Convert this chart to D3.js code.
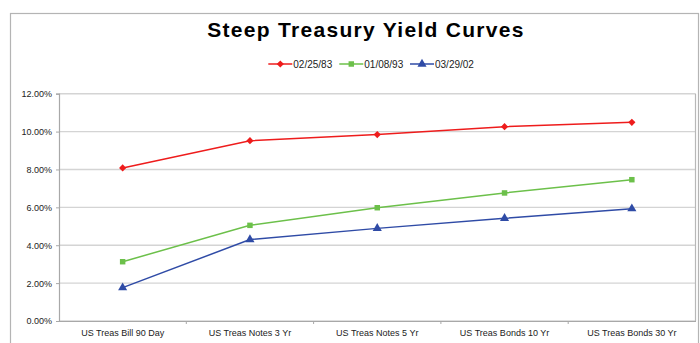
<!DOCTYPE html>
<html>
<head>
<meta charset="utf-8">
<script src="https://cdn.jsdelivr.net/npm/d3@7"></script>
<style>
  html, body { margin: 0; padding: 0; background: #fff; }
  svg { display: block; font-family: Arial, "Liberation Sans", sans-serif; }
</style>
</head>
<body>
<svg id="chart" width="700" height="343"></svg>
<script>
// Treasury yields (%) by maturity on three dates
const maturities = ["US Treas Bill 90 Day", "US Treas Notes 3 Yr", "US Treas Notes 5 Yr", "US Treas Bonds 10 Yr", "US Treas Bonds 30 Yr"];
const seriesNames = ["02/25/83", "01/08/93", "03/29/02"];
const yields1983 = [8.08, 9.52, 9.84, 10.26, 10.49];
const yields1993 = [3.13, 5.05, 5.98, 6.76, 7.46];
const yields2002 = [1.76, 4.30, 4.89, 5.42, 5.93];
const yTicks = [0, 2, 4, 6, 8, 10, 12];

// even-sided diamond marker
const symbolRhombus = {
  draw(ctx, size) {
    const r = Math.sqrt(size / 2);
    ctx.moveTo(0, -r);
    ctx.lineTo(r, 0);
    ctx.lineTo(0, r);
    ctx.lineTo(-r, 0);
    ctx.closePath();
  }
};

const colors = ["#ee1c1c", "#6cc04a", "#2f4ba6"];
const symbols = [symbolRhombus, d3.symbolSquare, d3.symbolTriangle];
const symbolSizes = [26, 30, 36];

const series = seriesNames.map((name, i) => ({
  name,
  values: [yields1983, yields1993, yields2002][i],
  color: colors[i],
  symbol: symbols[i],
  size: symbolSizes[i]
}));

const svg = d3.select("#chart");
const plot = { left: 59, right: 695.5, top: 93.7, bottom: 321 };

// outer chart frame
svg.append("rect")
  .attr("x", 10.5).attr("y", 13.5)
  .attr("width", 688).attr("height", 340)
  .attr("fill", "#fff").attr("stroke", "#b4b4b4").attr("stroke-width", 1.2);

// title
svg.append("text")
  .attr("x", 366).attr("y", 36.7)
  .attr("text-anchor", "middle")
  .attr("font-size", 21).attr("font-weight", "bold").attr("fill", "#000")
  .attr("letter-spacing", 1.3)
  .text("Steep Treasury Yield Curves");

const x = d3.scaleBand().domain(maturities).range([plot.left, plot.right]).paddingInner(0).paddingOuter(0);
const y = d3.scaleLinear().domain([0, 12]).range([plot.bottom, plot.top]);

// horizontal gridlines
svg.append("g")
  .selectAll("line")
  .data(yTicks)
  .join("line")
  .attr("x1", plot.left).attr("x2", plot.right)
  .attr("y1", d => y(d)).attr("y2", d => y(d))
  .attr("stroke", "#d4d4d4").attr("stroke-width", 1.4);

// plot area right edge
svg.append("line")
  .attr("x1", plot.right).attr("x2", plot.right)
  .attr("y1", plot.top).attr("y2", plot.bottom)
  .attr("stroke", "#b8b8b8").attr("stroke-width", 1.2);

// y axis
const yAxis = svg.append("g")
  .attr("transform", `translate(${plot.left},0)`)
  .call(d3.axisLeft(y).tickValues(yTicks).tickFormat(d => d.toFixed(2) + "%").tickSize(3).tickPadding(4));
yAxis.select(".domain").attr("stroke", "#a8a8a8").attr("stroke-width", 1.2);
yAxis.selectAll(".tick line").attr("stroke", "#a8a8a8");
yAxis.selectAll(".tick text").attr("font-size", 9).attr("fill", "#222").attr("font-family", "Arial, 'Liberation Sans', sans-serif");

// x axis with ticks at category boundaries
const xAxis = svg.append("g")
  .attr("transform", `translate(0,${plot.bottom})`)
  .call(d3.axisBottom(x).tickSize(0).tickPadding(9));
xAxis.select(".domain").attr("stroke", "#a8a8a8").attr("stroke-width", 1.2);
xAxis.selectAll(".tick text").attr("font-size", 9).attr("fill", "#222").attr("font-family", "Arial, 'Liberation Sans', sans-serif");
svg.append("g")
  .selectAll("line")
  .data(maturities.slice(1))
  .join("line")
  .attr("x1", d => x(d)).attr("x2", d => x(d))
  .attr("y1", plot.bottom).attr("y2", plot.bottom + 3)
  .attr("stroke", "#a8a8a8");

// series lines and markers
const cx = d => x(d) + x.bandwidth() / 2;
const line = d3.line().x((v, i) => cx(maturities[i])).y(v => y(v));

const sg = svg.append("g").selectAll("g").data(series).join("g");
sg.append("path")
  .attr("d", d => line(d.values))
  .attr("fill", "none")
  .attr("stroke", d => d.color)
  .attr("stroke-width", 1.5);
sg.each(function (s) {
  d3.select(this).selectAll("path.pt")
    .data(s.values)
    .join("path")
    .attr("class", "pt")
    .attr("transform", (v, i) => `translate(${cx(maturities[i])},${y(v)})`)
    .attr("d", d3.symbol().type(s.symbol).size(s.size))
    .attr("fill", s.color);
});

// legend
const legendX = [268.3, 339.3, 410];
const legendY = 64;
const lg = svg.append("g").selectAll("g").data(series).join("g")
  .attr("transform", (d, i) => `translate(${legendX[i]},${legendY})`);
lg.append("line").attr("x1", 0).attr("x2", 24).attr("stroke", d => d.color).attr("stroke-width", 1.5);
lg.append("path")
  .attr("transform", "translate(12,0)")
  .attr("d", d => d3.symbol().type(d.symbol).size(d.size)())
  .attr("fill", d => d.color);
lg.append("text")
  .attr("x", 25).attr("y", 3.5)
  .attr("font-size", 10).attr("fill", "#222")
  .text(d => d.name);
</script>
</body>
</html>
